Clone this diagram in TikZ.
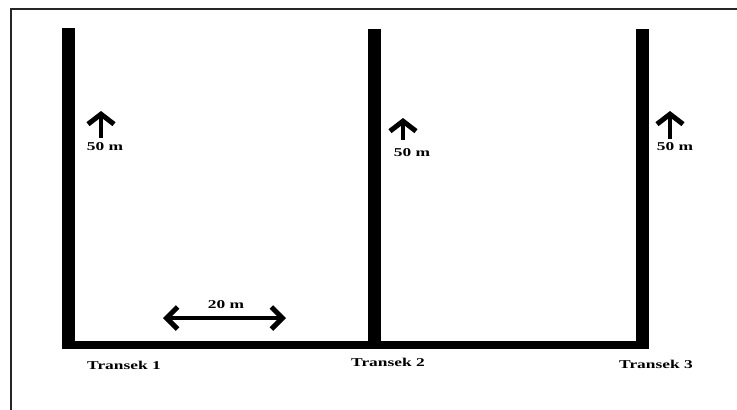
\documentclass[tikz,border=0pt]{standalone}
\usepackage{fontspec}
\setmainfont{Liberation Serif}
\newfontfamily\lblfont{Liberation Serif Bold}
\usetikzlibrary{arrows.meta,positioning}

\begin{document}
\begin{tikzpicture}[x=1pt,y=-1pt]
\tikzset{lbl/.style={font=\lblfont\fontsize{12}{14}\selectfont, xscale=1.45, inner sep=0pt},
  wbarb/.tip={Straight Barb[length=11pt,width=22pt,line width=5pt]},
  uparrow/.style={line width=4.5pt, -{Straight Barb[length=10pt,width=26pt,line width=5pt]}}}
\useasboundingbox (0,0) rectangle (737,410);
% frame
\draw[line width=1.6pt, black!85] (11,410) -- (11,9) -- (737,9);
% transects
\fill (62,28) rectangle (75,349);
\fill (368,29) rectangle (381,349);
\fill (636,29) rectangle (649,349);
\fill (62,341) rectangle (649,349);
% 50 m arrows
\coordinate (u1) at (101,138);
\coordinate (v1) at (101,111);
\coordinate (u2) at (403,140);
\coordinate (v2) at (403,118);
\coordinate (u3) at (670,139);
\coordinate (v3) at (670,111);
\draw[uparrow] (u1) -- (v1);
\draw[uparrow] (u2) -- (v2);
\draw[uparrow] (u3) -- (v3);
\node[lbl] (m1) at (105,147) {50 m};
\node[lbl] (m2) at (412,153) {50 m};
\node[lbl] (m3) at (675,147) {50 m};
% 20 m
\coordinate (w1) at (163,318);
\coordinate (w2) at (286,318);
\draw[line width=3.5pt, wbarb-wbarb] (w1) -- (w2);
\node[lbl] (d) at (226,305) {20 m};
% names
\node[lbl] (t1) at (124,365) {Transek 1};
\node[lbl] (t2) at (388,362) {Transek 2};
\node[lbl] (t3) at (656,364) {Transek 3};
\end{tikzpicture}
\end{document}
